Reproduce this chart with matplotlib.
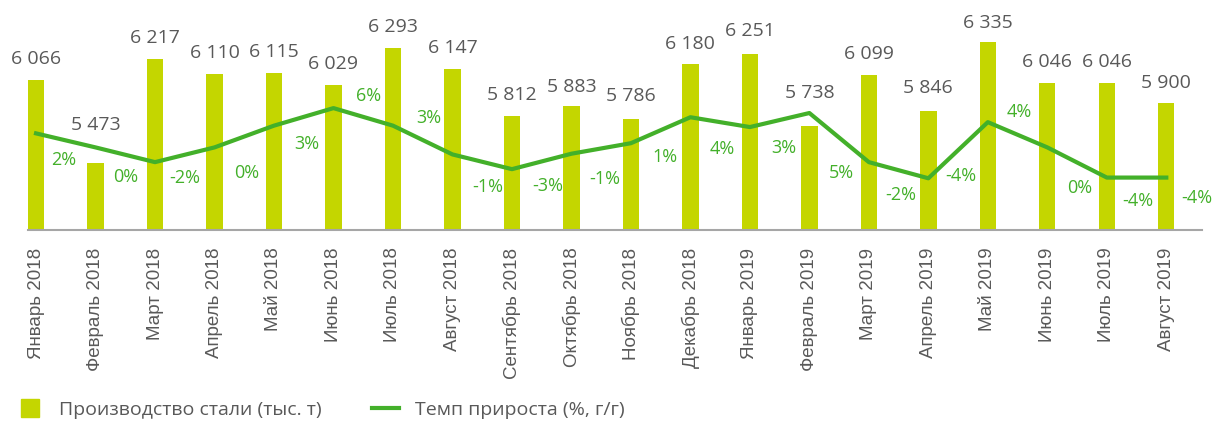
import matplotlib

matplotlib.use("Agg")
import matplotlib.pyplot as plt
from matplotlib.lines import Line2D

months = [
    "Январь 2018", "Февраль 2018", "Март 2018", "Апрель 2018", "Май 2018",
    "Июнь 2018", "Июль 2018", "Август 2018", "Сентябрь 2018", "Октябрь 2018",
    "Ноябрь 2018", "Декабрь 2018", "Январь 2019", "Февраль 2019", "Март 2019",
    "Апрель 2019", "Май 2019", "Июнь 2019", "Июль 2019", "Август 2019",
]
steel = [6066, 5473, 6217, 6110, 6115, 6029, 6293, 6147, 5812, 5883,
         5786, 6180, 6251, 5738, 6099, 5846, 6335, 6046, 6046, 5900]
growth = [2.0, 0.0, -2.1, 0.0, 3.1, 5.6, 3.1, -1.0, -3.1, -0.9,
          0.6, 4.3, 2.9, 4.9, -2.1, -4.4, 3.6, 0.0, -4.3, -4.3]

# label placement (pixels), picked by eye from the reference
bar_label_dy = [21, 38, 21, 21, 21, 21, 21, 21, 21, 19,
                23, 20, 23, 33, 21, 23, 19, 21, 21, 20]
pct_label_dx = [28, 30, 30, 32, 33, 35, 36, 35, 36, 33,
                34, 32, 34, 32, 32, 32, 31, 32, 31, 31]
pct_label_dy = [27, 30, 16, 26, 18, -12, -8, 33, 17, 25,
                14, 32, 21, 60, 33, -2, -10, 41, 23, 20]

BAR = "#C4D600"
LINE = "#43B02A"
GRAY = "#595959"

fig = plt.figure(figsize=(12.13, 4.21), dpi=100)
W, H = 1213, 421
ax = fig.add_axes([28 / W, 1 - 229.5 / H, (1202 - 28) / W, 210.5 / H])
x = list(range(len(months)))

ax.bar(x, steel, width=0.274, color=BAR, zorder=2)
ax.set_xlim(-0.135, 19.6)
ax.set_ylim(5000, 6500)
ax.set_yticks([])
for s in ["top", "right", "left"]:
    ax.spines[s].set_visible(False)
ax.spines["bottom"].set_color("#A6A6A6")
ax.spines["bottom"].set_linewidth(1.5)
ax.set_xticks(x)
ax.set_xticklabels(months, rotation=90, fontsize=13.5, color=GRAY,
                   family="Liberation Sans", va="top")
ax.tick_params(axis="x", length=0, pad=13)

for i, (v, dy) in enumerate(zip(steel, bar_label_dy)):
    ax.annotate(f"{v:,}".replace(",", " "), (i, v), xytext=(0, dy),
                textcoords="offset pixels", ha="center", va="center",
                fontsize=14, color=GRAY, family="Open Sans")

ax2 = ax.twinx()
ax2.set_ylim(-11.7, 18.3)
ax2.axis("off")
ax2.plot(x, growth, color=LINE, lw=3, solid_joinstyle="round")
for i, (g, dx, dy) in enumerate(zip(growth, pct_label_dx, pct_label_dy)):
    ax2.annotate(f"{g:.0f}%", (i, g), xytext=(dx, -dy),
                 textcoords="offset pixels", ha="center", va="center",
                 fontsize=13, color=LINE, family="Open Sans")

handles = [
    Line2D([], [], marker="s", ls="none", markersize=13, color=BAR),
    Line2D([], [], color=LINE, lw=3),
]
fig.legend(handles, ["Производство стали (тыс. т)", "Темп прироста (%, г/г)"],
           loc="center left", bbox_to_anchor=(16 / W, 1 - 410 / H), ncol=2,
           frameon=False, borderpad=0, borderaxespad=0, handlelength=1.4,
           handletextpad=0.8, columnspacing=2.6,
           prop={"family": "Open Sans", "size": 14}, labelcolor=GRAY)

fig.savefig("out.png", dpi=100)
